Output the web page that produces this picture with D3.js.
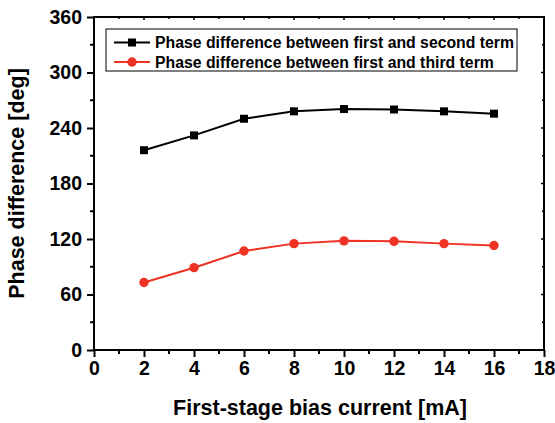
<!DOCTYPE html>
<html>
<head>
<meta charset="utf-8">
<script src="https://cdn.jsdelivr.net/npm/d3@7"></script>
<style>
  body { margin: 0; background: #fff; }
  svg { font-family: "Liberation Sans", Arial, sans-serif; font-weight: bold; }
</style>
</head>
<body>
<div id="chart"></div>
<script>
var current = [2, 4, 6, 8, 10, 12, 14, 16];
var secondTerm = [216, 232, 250, 258, 260.5, 260, 258, 255.5];
var thirdTerm = [73, 89, 107, 115, 118, 117.5, 115, 113];
var seriesNames = ["Phase difference between first and second term",
                   "Phase difference between first and third term"];
var xTicks = [0, 2, 4, 6, 8, 10, 12, 14, 16, 18];
var yTicks = [0, 60, 120, 180, 240, 300, 360];

var W = 555, H = 423;
// plot box edges (window.top is reserved, so prefix everything)
var plotLeft = 94, plotRight = 544, plotTop = 17, plotBottom = 350;

var svg = d3.select('#chart').append('svg')
    .attr('width', W)
    .attr('height', H);

var x = d3.scaleLinear().domain([0, 18]).range([plotLeft, plotRight]);
var y = d3.scaleLinear().domain([0, 360]).range([plotBottom, plotTop]);

// frame
svg.append('rect')
    .attr('x', plotLeft).attr('y', plotTop)
    .attr('width', plotRight - plotLeft).attr('height', plotBottom - plotTop)
    .attr('fill', 'none').attr('stroke', '#000').attr('stroke-width', 2);

var xMinor = d3.range(1, 18, 2);
var yMinor = d3.range(30, 360, 60);

// bottom axis (outward ticks)
var xAxis = svg.append('g')
    .attr('transform', 'translate(0,' + plotBottom + ')')
    .call(d3.axisBottom(x).tickValues(xTicks).tickSize(7).tickPadding(4));
xAxis.select('.domain').remove();
xAxis.selectAll('line').attr('stroke-width', 2);
xAxis.selectAll('text').attr('font-size', 19.5).attr('font-weight', 'bold')
    .attr('font-family', '"Liberation Sans", Arial, sans-serif').attr('fill', '#000');
svg.append('g').selectAll('line').data(xMinor).join('line')
    .attr('x1', d => x(d)).attr('x2', d => x(d))
    .attr('y1', plotBottom).attr('y2', plotBottom + 4)
    .attr('stroke', '#000').attr('stroke-width', 2);

// left axis (outward ticks)
var yAxis = svg.append('g')
    .attr('transform', 'translate(' + plotLeft + ',0)')
    .call(d3.axisLeft(y).tickValues(yTicks).tickSize(7).tickPadding(5));
yAxis.select('.domain').remove();
yAxis.selectAll('line').attr('stroke-width', 2);
yAxis.selectAll('text').attr('font-size', 19.5).attr('font-weight', 'bold')
    .attr('font-family', '"Liberation Sans", Arial, sans-serif').attr('fill', '#000');
svg.append('g').selectAll('line').data(yMinor).join('line')
    .attr('x1', plotLeft - 4).attr('x2', plotLeft)
    .attr('y1', d => y(d)).attr('y2', d => y(d))
    .attr('stroke', '#000').attr('stroke-width', 2);

// top and right mirrored ticks, pointing inward
var mirror = svg.append('g').attr('stroke', '#000').attr('stroke-width', 1.5);
mirror.selectAll('.tx').data(xTicks.concat(xMinor)).join('line')
    .attr('x1', d => x(d)).attr('x2', d => x(d))
    .attr('y1', plotTop).attr('y2', d => plotTop + (d % 2 ? 2 : 3));
mirror.selectAll('.ty').data(yTicks.concat(yMinor)).join('line')
    .attr('x1', plotRight).attr('x2', d => plotRight - (d % 60 ? 2 : 3))
    .attr('y1', d => y(d)).attr('y2', d => y(d));

// axis titles
svg.append('text')
    .attr('x', 320).attr('y', 415)
    .attr('text-anchor', 'middle').attr('font-size', 21.5)
    .text('First-stage bias current [mA]');
svg.append('text')
    .attr('transform', 'translate(24,' + ((plotTop + plotBottom) / 2) + ') rotate(-90)')
    .attr('text-anchor', 'middle').attr('font-size', 21.5)
    .text('Phase difference [deg]');

// series
var series = [
  { name: seriesNames[0], values: secondTerm, color: '#000', shape: 'square' },
  { name: seriesNames[1], values: thirdTerm, color: '#ee3224', shape: 'circle' }
];

var line = d3.line()
    .x((d, i) => x(current[i]))
    .y(d => y(d));

function drawMarker(sel, s, cx, cy) {
  if (s.shape === 'square') {
    sel.append('rect')
        .attr('x', cx - 4).attr('y', cy - 4)
        .attr('width', 8).attr('height', 8)
        .attr('fill', s.color);
  } else {
    sel.append('circle')
        .attr('cx', cx).attr('cy', cy).attr('r', 4.7)
        .attr('fill', s.color);
  }
}

series.forEach(s => {
  var g = svg.append('g');
  g.append('path')
      .attr('d', line(s.values))
      .attr('fill', 'none').attr('stroke', s.color).attr('stroke-width', 2);
  s.values.forEach((v, i) => drawMarker(g, s, x(current[i]), y(v)));
});

// legend
var legend = svg.append('g');
legend.append('rect')
    .attr('x', 106).attr('y', 29).attr('width', 411).attr('height', 42)
    .attr('fill', '#fff').attr('stroke', '#000').attr('stroke-width', 1);
series.forEach((s, i) => {
  var ly = 42.5 + i * 19.5;
  legend.append('line')
      .attr('x1', 114).attr('x2', 150).attr('y1', ly).attr('y2', ly)
      .attr('stroke', s.color).attr('stroke-width', 2);
  drawMarker(legend, s, 132, ly);
  legend.append('text')
      .attr('x', 155).attr('y', ly + 5.5)
      .attr('font-size', 15.8)
      .text(s.name);
});
</script>
</body>
</html>
